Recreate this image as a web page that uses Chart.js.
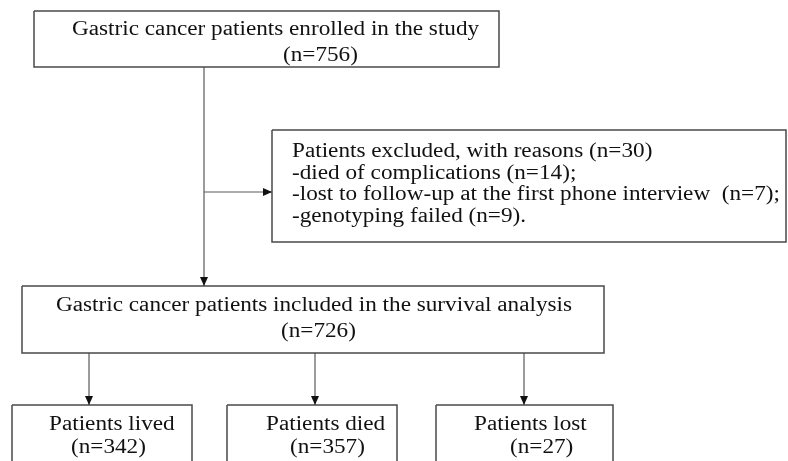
<!DOCTYPE html>
<html>
<head>
<meta charset="utf-8">
<script src="https://cdn.jsdelivr.net/npm/chart.js@4.4.1/dist/chart.umd.min.js"></script>
<style>
    html, body { margin: 0; padding: 0; background: #fff; }
    #wrap { width: 788px; height: 461px; }
</style>
</head>
<body>
<div id="wrap"><canvas id="flow" width="788" height="461"></canvas></div>
<script>
// Boxes of the flow diagram, in page units (x to the right, y downwards)
const boxLeft   = [34, 272, 22, 12, 227, 436];
const boxTop    = [11, 130, 286, 405, 405, 405];
const boxRight  = [499, 786, 604, 192, 397, 613];
const boxBottom = [67, 242, 353, 480, 480, 480];

// Connectors: start and end point, arrow drawn at the end
const linkX1 = [204, 204, 89, 315, 524];
const linkY1 = [67, 192, 353, 353, 353];
const linkX2 = [204, 272, 89, 315, 524];
const linkY2 = [286, 192, 405, 405, 405];

// Text lines and where each one starts (left edge, baseline)
const textLines = [
    'Gastric cancer patients enrolled in the study',
    '(n=756)',
    'Patients excluded, with reasons (n=30)',
    '-died of complications (n=14);',
    '-lost to follow-up at the first phone interview  (n=7);',
    '-genotyping failed (n=9).',
    'Gastric cancer patients included in the survival analysis',
    '(n=726)',
    'Patients lived',
    '(n=342)',
    'Patients died',
    '(n=357)',
    'Patients lost',
    '(n=27)'
];
const textX = [72, 283, 292, 292, 292, 292, 56, 281, 49, 71, 266, 290, 474, 510];
const textY = [35, 61, 157, 179, 200, 222, 311, 337, 430, 453, 430, 453, 430, 453];

const BOX_COLOR = '#4a4a4a';
const LINK_COLOR = '#5a5a5a';
const TEXT_COLOR = '#111';
const FONT = '20px "Liberation Serif", "Times New Roman", serif';
const STRETCH = 1.16;

const datasets = [];
boxLeft.forEach((l, i) => {
    const r = boxRight[i], t = boxTop[i], b = boxBottom[i];
    datasets.push({
        label: 'box' + i,
        data: [{x: l, y: t}, {x: r, y: t}, {x: r, y: b}, {x: l, y: b}, {x: l, y: t}],
        borderColor: BOX_COLOR,
        borderWidth: 1.5,
        pointRadius: 0,
        showLine: true,
        fill: false,
        tension: 0
    });
});
linkX1.forEach((x1, i) => {
    datasets.push({
        label: 'link' + i,
        data: [{x: x1, y: linkY1[i]}, {x: linkX2[i], y: linkY2[i]}],
        borderColor: LINK_COLOR,
        borderWidth: 1.2,
        pointRadius: 0,
        showLine: true,
        fill: false,
        arrow: true
    });
});

const arrowPlugin = {
    id: 'arrows',
    afterDatasetsDraw(chart) {
        const ctx = chart.ctx;
        chart.data.datasets.forEach((ds, i) => {
            if (!ds.arrow) return;
            const pts = chart.getDatasetMeta(i).data;
            const a = pts[pts.length - 2], b = pts[pts.length - 1];
            const ang = Math.atan2(b.y - a.y, b.x - a.x);
            const len = 9, half = 4;
            ctx.save();
            ctx.translate(b.x, b.y);
            ctx.rotate(ang);
            ctx.beginPath();
            ctx.moveTo(0, 0);
            ctx.lineTo(-len, -half);
            ctx.lineTo(-len, half);
            ctx.closePath();
            ctx.fillStyle = '#111';
            ctx.fill();
            ctx.restore();
        });
    }
};

const textPlugin = {
    id: 'boxText',
    afterDraw(chart) {
        const ctx = chart.ctx;
        const xs = chart.scales.x, ys = chart.scales.y;
        ctx.save();
        ctx.font = FONT;
        ctx.fillStyle = TEXT_COLOR;
        ctx.textAlign = 'left';
        ctx.textBaseline = 'alphabetic';
        textLines.forEach((t, i) => {
            ctx.save();
            ctx.translate(xs.getPixelForValue(textX[i]), ys.getPixelForValue(textY[i]));
            ctx.scale(STRETCH, 1);
            ctx.fillText(t, 0, 0);
            ctx.restore();
        });
        ctx.restore();
    }
};

new Chart(document.getElementById('flow'), {
    type: 'scatter',
    data: { datasets: datasets },
    options: {
        responsive: false,
        animation: false,
        layout: { padding: 0 },
        plugins: {
            legend: { display: false },
            tooltip: { enabled: false }
        },
        scales: {
            x: { type: 'linear', min: 0, max: 788, display: false },
            y: { type: 'linear', min: 0, max: 461, reverse: true, display: false }
        }
    },
    plugins: [arrowPlugin, textPlugin]
});
</script>
</body>
</html>
